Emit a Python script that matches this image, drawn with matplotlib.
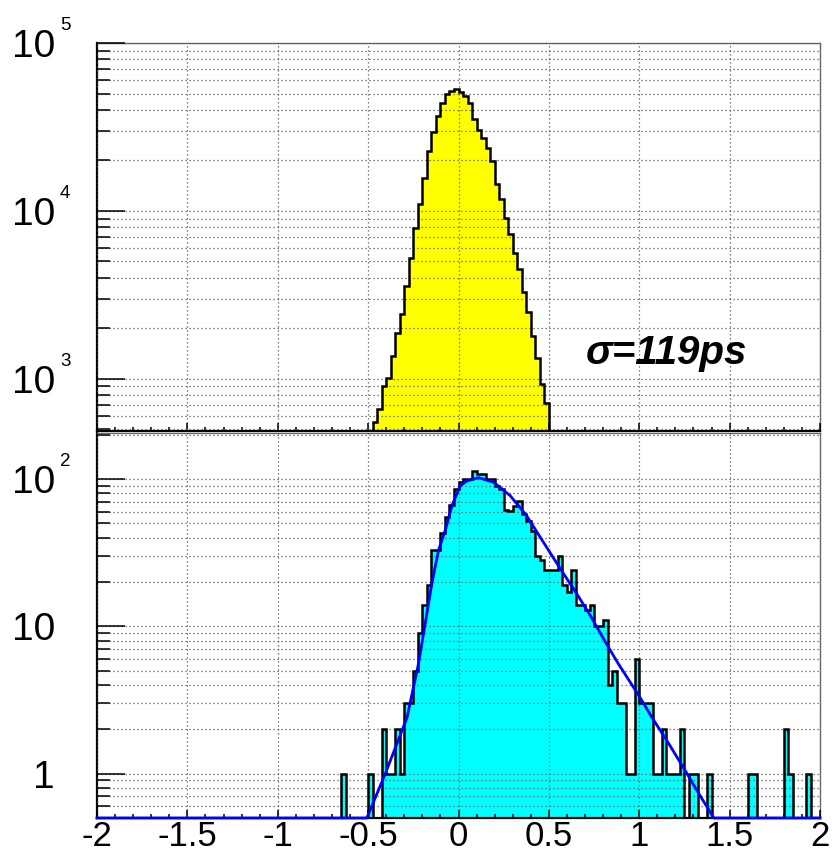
import numpy as np
import matplotlib.pyplot as plt
from matplotlib.ticker import MultipleLocator, FixedLocator, NullFormatter

plt.rcParams['font.family'] = ['Liberation Sans', 'DejaVu Sans']

BIN = 0.025

# upper panel: yellow histogram, 0.025 wide bins starting at -0.475
top_start = -0.475
top_counts = [550, 660, 900, 1010, 1370, 1880, 2420, 3570, 5270, 7950,
              10960, 15800, 22800, 29300, 36800, 44200, 49700, 52000, 53200,
              51000, 48500, 44200, 35200, 30500, 27000, 23800, 19800, 14400, 11700,
              9100, 7300, 5600, 4500, 3300, 2500, 1800, 1330, 930, 720]

# lower panel: cyan histogram, 0.025 wide bins starting at -0.65
bot_start = -0.65
bot_counts = [1, 0, 0, 0, 0, 0, 1, 0, 0, 2,
              1, 1, 2, 1, 3, 3, 5, 9, 14, 19,
              33, 33, 43, 55, 67, 85, 96, 100, 100, 114,
              108, 108, 100, 100, 90, 85, 62, 61, 66, 71,
              58, 52, 44, 30, 28, 24, 24, 24, 30, 19,
              17, 24, 14, 14, 13, 14, 10, 10, 11, 4,
              5, 3, 3, 1, 1, 6, 3, 3, 3, 1,
              1, 2, 1, 1, 1, 2, 0, 1, 1, 0,
              0, 1, 0, 0, 0, 0, 0, 0, 0, 0,
              1, 1, 0, 0, 0, 0, 0, 0, 2, 1,
              0, 0, 0, 1, 0, 0]

# fitted curve (0.5 = drawn on the bottom axis)
fit_x = [-2.0, -0.507, -0.405, -0.285, -0.221, -0.184, -0.147, -0.110, -0.073,
         -0.036, 0.010, 0.047, 0.111, 0.194, 0.286, 0.378, 0.471, 0.564, 0.656,
         0.730, 0.813, 0.887, 0.997, 1.071, 1.163, 1.256, 1.330, 1.413, 2.0]
fit_y = [0.5, 0.5, 1.0, 2.4, 5.6, 10.5, 19.7, 33, 45, 66, 90, 97, 102, 95, 77,
         56, 37, 24.5, 16.5, 11.8, 7.8, 5.5, 3.4, 2.4, 1.6, 1.04, 0.73, 0.5, 0.5]

xtick_labels = ['-2', '-1.5', '-1', '-0.5', '0', '0.5', '1', '1.5', '2']
top_decades = [1e3, 1e4, 1e5]
top_exps = ['3', '4', '5']
bot_decades = [1, 10, 100]
bot_labels = [('1', ''), ('10', ''), ('10', '2')]

fig = plt.figure(figsize=(8.32, 8.59), dpi=100)
W, H = 832, 859
ax1 = fig.add_axes([97 / W, 1 - 431 / H, 723 / W, 388 / H])
ax2 = fig.add_axes([97 / W, 1 - 818 / H, 723 / W, 385 / H])

grid_kw = dict(color='#555555', linestyle=(0, (1, 2.2)), linewidth=0.9)

for ax in (ax1, ax2):
    ax.set_yscale('log')
    ax.set_xlim(-2, 2)
    ax.set_axisbelow(False)
    ax.xaxis.set_major_locator(MultipleLocator(0.5))
    ax.xaxis.set_minor_locator(MultipleLocator(0.1))
    ax.tick_params(axis='x', which='major', direction='in', length=6, width=1.1)
    ax.tick_params(axis='x', which='minor', direction='in', length=3, width=1.1)
    ax.tick_params(axis='y', which='major', direction='in', length=20, width=1.1)
    ax.tick_params(axis='y', which='minor', direction='in', length=9.5, width=1.1)
    ax.tick_params(top=False, right=False, labelleft=False)
    ax.yaxis.set_minor_formatter(NullFormatter())
    ax.grid(True, which='major', axis='x', **grid_kw)
    ax.grid(True, which='both', axis='y', **grid_kw)
    for side in ('left', 'bottom'):
        ax.spines[side].set_linewidth(1.6)
        ax.spines[side].set_color('black')
    for side in ('top', 'right'):
        ax.spines[side].set_linewidth(1.0)
        ax.spines[side].set_color('#666666')

# ---- top panel
tc = np.array(top_counts, dtype=float)
te = top_start + BIN * np.arange(len(tc) + 1)
ax1.stairs(tc, te, baseline=100, fill=True, color='#ffff00', linewidth=0, zorder=1)
ax1.stairs(tc, te, baseline=100, fill=False, color='black', linewidth=1.8, zorder=3)
ax1.set_ylim(488, 1e5)
ax1.yaxis.set_major_locator(FixedLocator(top_decades))
ax1.yaxis.set_minor_locator(FixedLocator([m * d for d in [100, 1000, 10000] for m in range(2, 10)]))
ax1.tick_params(labelbottom=False)
for d, e in zip(top_decades, top_exps):
    ax1.annotate('10', xy=(0, d), xycoords=ax1.get_yaxis_transform(),
                 xytext=(-42, 0), textcoords='offset pixels',
                 ha='right', va='center_baseline', fontsize=28)
    ax1.annotate(e, xy=(0, d), xycoords=ax1.get_yaxis_transform(),
                 xytext=(-37, 19), textcoords='offset pixels',
                 ha='left', va='center_baseline', fontsize=13.5)
ax1.text(0.702, 1225, 'σ=119ps', fontsize=29, fontweight='bold', fontstyle='italic',
         ha='left', va='baseline')

# ---- bottom panel
bc = np.array(bot_counts, dtype=float)
be = bot_start + BIN * np.arange(len(bc) + 1)
bplot = np.where(bc > 0, bc, 1e-2)
ax2.stairs(bplot, be, baseline=1e-2, fill=True, color='#00ffff', linewidth=0, zorder=1)
ax2.stairs(bplot, be, baseline=1e-2, fill=False, color='black', linewidth=1.8, zorder=3)
ax2.plot(fit_x, fit_y, color='#0000ff', linewidth=2.0, zorder=5, clip_on=False)
ax2.set_ylim(0.5, 205)
ax2.yaxis.set_major_locator(FixedLocator(bot_decades))
ax2.yaxis.set_minor_locator(FixedLocator([m * d for d in [0.1, 1, 10, 100] for m in range(2, 10)]))
for d, (base, e) in zip(bot_decades, bot_labels):
    ax2.annotate(base, xy=(0, d), xycoords=ax2.get_yaxis_transform(),
                 xytext=(-42, 0), textcoords='offset pixels',
                 ha='right', va='center_baseline', fontsize=28)
    if e:
        ax2.annotate(e, xy=(0, d), xycoords=ax2.get_yaxis_transform(),
                     xytext=(-37, 19), textcoords='offset pixels',
                     ha='left', va='center_baseline', fontsize=13.5)
ax2.set_xticks(np.arange(-2, 2.01, 0.5))
ax2.set_xticklabels(xtick_labels, fontsize=25)
ax2.tick_params(axis='x', which='major', pad=1.5)

fig.savefig('out.png', dpi=100)
